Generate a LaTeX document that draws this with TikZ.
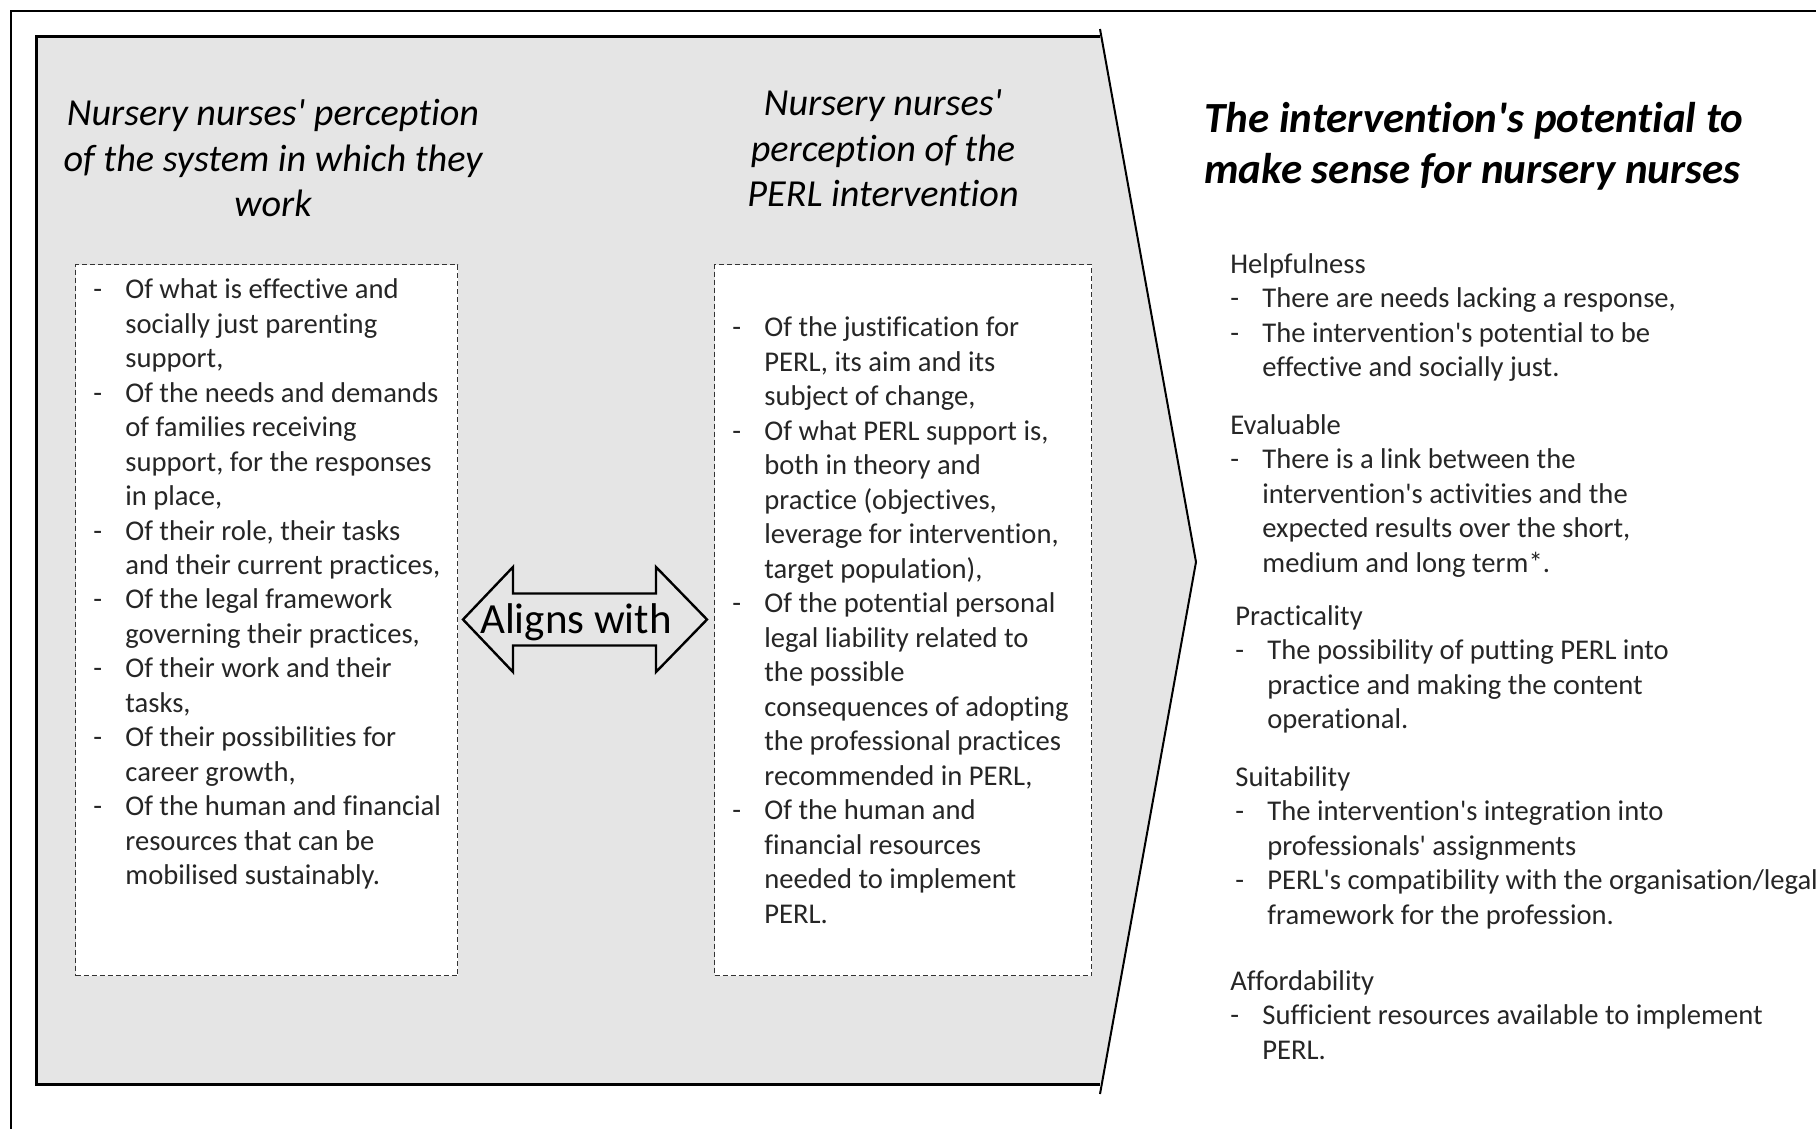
\documentclass[tikz,border=0pt]{standalone}
\usepackage{fontspec}
\setmainfont{Carlito}[Ligatures={TeX,NoCommon,NoContextual}]
\usetikzlibrary{positioning}
\newcommand{\q}{\textquotesingle}

\begin{document}
\begin{tikzpicture}[x=0.5pt,y=-0.5pt]
    \tikzstyle{every node}=[inner sep=0pt]
    \tikzstyle{titletext}=[anchor=base, font={\fontsize{19.1}{22.75}\selectfont\itshape}]
    \tikzstyle{bodytext}=[anchor=base west, text=black!85, font={\fontsize{14.3}{17.25}\selectfont}]
    \tikzstyle{dashbox}=[draw=black!80, dash pattern=on 2.5pt off 1.5pt, line width=0.6pt, fill=white, anchor=north west]
    \useasboundingbox (0,0) rectangle (1816,1129);
    % outer frame and chevron
    \draw[line width=1.2pt] (11,1129) -- (11,11) -- (1816,11);
    \fill[black!10] (36,37) -- (1101.5,37) -- (1196,562) -- (1101.5,1084) -- (36,1084) -- cycle;
    \draw[line width=1.5pt] (1100,37) -- (36,37) -- (36,1084) -- (1100,1084);
    \draw[line width=1pt] (1100,29) -- (1196,562) -- (1100,1094);
    % titles
    \node[titletext] (systitle) at (273,126) {\begin{tabular}[t]{@{}c@{}}Nursery nurses\q{} perception\\of the system in which they\\work\end{tabular}};
    \node[titletext] (perltitle) at (883,116) {\begin{tabular}[t]{@{}c@{}}Nursery nurses\q{}\\perception of the\\PERL intervention\end{tabular}};
    \node[anchor=base west, font={\fontsize{21.5}{25.5}\selectfont\bfseries\itshape}] (sensetitle) at (1204,133) {\begin{tabular}[t]{@{}l@{}}The intervention\q{}s potential to\\make sense for nursery nurses\end{tabular}};
    % dashed boxes
    \node[dashbox, minimum width=191pt, minimum height=355.5pt] (sysbox) at (75,264) {};
    \node[dashbox, minimum width=188.5pt, minimum height=355.5pt] (perlbox) at (714,264) {};
    \node[bodytext] (systext) at (93,298.5) {\begin{tabular}[t]{@{}p{16pt}@{}l@{}}
        -&Of what is effective and\\&socially just parenting\\&support,\\
        -&Of the needs and demands\\&of families receiving\\&support, for the responses\\&in place,\\
        -&Of their role, their tasks\\&and their current practices,\\
        -&Of the legal framework\\&governing their practices,\\
        -&Of their work and their\\&tasks,\\
        -&Of their possibilities for\\&career growth,\\
        -&Of the human and financial\\&resources that can be\\&mobilised sustainably.
    \end{tabular}};
    \node[bodytext] (perltext) at (732,336.5) {\begin{tabular}[t]{@{}p{16pt}@{}l@{}}
        -&Of the justification for\\&PERL, its aim and its\\&subject of change,\\
        -&Of what PERL support is,\\&both in theory and\\&practice (objectives,\\&leverage for intervention,\\&target population),\\
        -&Of the potential personal\\&legal liability related to\\&the possible\\&consequences of adopting\\&the professional practices\\&recommended in PERL,\\
        -&Of the human and\\&financial resources\\&needed to implement\\&PERL.
    \end{tabular}};
    % double arrow
    \draw[line width=1.2pt] (463,619.5) -- (513,567) -- (513,593.5) -- (656,593.5) -- (656,567) -- (707,619.5)
        -- (656,672) -- (656,645.5) -- (513,645.5) -- (513,672) -- cycle;
    \node[anchor=base, font={\fontsize{21.5}{25}\selectfont}] (aligns) at (576,633) {Aligns with};
    % criteria
    \node[bodytext] (helpful) at (1230,273) {\begin{tabular}[t]{@{}p{16pt}@{}l@{}}
        \multicolumn{2}{@{}l@{}}{Helpfulness}\\
        -&There are needs lacking a response,\\
        -&The intervention\q{}s potential to be\\&effective and socially just.
    \end{tabular}};
    \node[bodytext] (evaluable) at (1230,434) {\begin{tabular}[t]{@{}p{16pt}@{}l@{}}
        \multicolumn{2}{@{}l@{}}{Evaluable}\\
        -&There is a link between the\\&intervention\q{}s activities and the\\&expected results over the short,\\&medium and long term*.
    \end{tabular}};
    \node[bodytext] (practical) at (1235,625) {\begin{tabular}[t]{@{}p{16pt}@{}l@{}}
        \multicolumn{2}{@{}l@{}}{Practicality}\\
        -&The possibility of putting PERL into\\&practice and making the content\\&operational.
    \end{tabular}};
    \node[bodytext] (suitable) at (1235,786) {\begin{tabular}[t]{@{}p{16pt}@{}l@{}}
        \multicolumn{2}{@{}l@{}}{Suitability}\\
        -&The intervention\q{}s integration into\\&professionals\q{} assignments\\
        -&PERL\q{}s compatibility with the organisation/legal\\&framework for the profession.
    \end{tabular}};
    \node[bodytext] (afford) at (1230,990) {\begin{tabular}[t]{@{}p{16pt}@{}l@{}}
        \multicolumn{2}{@{}l@{}}{Affordability}\\
        -&Sufficient resources available to implement\\&PERL.
    \end{tabular}};
\end{tikzpicture}
\end{document}
